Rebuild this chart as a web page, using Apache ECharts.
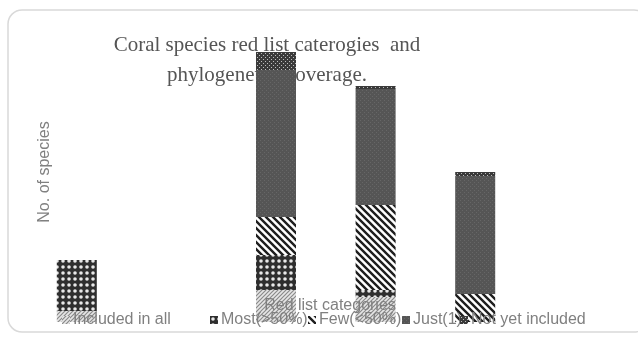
<!DOCTYPE html>
<html>
<head>
<meta charset="utf-8">
<script src="https://cdn.jsdelivr.net/npm/echarts@6/dist/echarts.min.js"></script>
<style>
  html, body { margin: 0; padding: 0; background: #fff; }
  #chart { width: 638px; height: 340px; }
</style>
</head>
<body>
<div id="chart"></div>
<script>
// Red list categories along the x axis (labels are not shown on the axis)
const categories = ['DD', 'CR', 'EN', 'VU', 'NT'];

// Number of species per phylogenetic coverage group, stacked bottom to top
const includedAll = [11, 0, 32, 25, 0];
const mostCovered = [51, 0, 35, 7, 0];
const fewCovered  = [0, 0, 38, 85, 28];
const justOne     = [0, 0, 147, 116, 118];
const notYet      = [0, 0, 18, 3, 4];

const seriesNames = ['Included in all', 'Most(>50%)', 'Few(<50%)', 'Just(1)', 'Not yet included'];

// Small repeating fills for the bar segments
function makePattern(size, draw) {
  const c = document.createElement('canvas');
  c.width = size; c.height = size;
  const g = c.getContext('2d');
  draw(g, size);
  return { image: c, repeat: 'repeat' };
}

const fineHatch = makePattern(4, (g, s) => {
  g.fillStyle = '#e6e6e6'; g.fillRect(0, 0, s, s);
  g.strokeStyle = '#8a8a8a'; g.lineWidth = 1.2;
  g.beginPath();
  g.moveTo(0, s); g.lineTo(s, 0);
  g.moveTo(-1, 1); g.lineTo(1, -1);
  g.moveTo(s - 1, s + 1); g.lineTo(s + 1, s - 1);
  g.stroke();
});

const dotGrid = makePattern(6, (g, s) => {
  g.fillStyle = '#2e2e2e'; g.fillRect(0, 0, s, s);
  g.fillStyle = '#e8e8e8';
  g.beginPath(); g.arc(3, 3, 1.8, 0, Math.PI * 2); g.fill();
});

const wideHatch = makePattern(7, (g, s) => {
  g.fillStyle = '#ffffff'; g.fillRect(0, 0, s, s);
  g.strokeStyle = '#1e1e1e'; g.lineWidth = 2.4;
  g.beginPath();
  g.moveTo(0, 0); g.lineTo(s, s);
  g.moveTo(-s, 0); g.lineTo(s, 2 * s);
  g.moveTo(0, -s); g.lineTo(2 * s, s);
  g.stroke();
});

const darkFill = makePattern(4, (g, s) => {
  g.fillStyle = '#555555'; g.fillRect(0, 0, s, s);
  g.fillStyle = '#666666';
  g.fillRect(0, 0, 1, 1); g.fillRect(2, 2, 1, 1);
});

const fineDots = makePattern(4, (g, s) => {
  g.fillStyle = '#3a3a3a'; g.fillRect(0, 0, s, s);
  g.fillStyle = '#bdbdbd';
  g.fillRect(1, 1, 1, 1); g.fillRect(3, 3, 1, 1);
});

const fills = [fineHatch, dotGrid, wideHatch, darkFill, fineDots];
const values = [includedAll, mostCovered, fewCovered, justOne, notYet];

const series = seriesNames.map((name, i) => ({
  name: name,
  type: 'bar',
  stack: 'total',
  barWidth: 40,
  z: 10,
  itemStyle: { color: fills[i] },
  emphasis: { disabled: true },
  data: values[i]
}));

const labelFont = { fontFamily: 'Liberation Sans', fontSize: 16, color: '#808080' };

// One legend block per entry so each sits where it belongs along the bottom row
const legendLeft = [57, 205, 303, 397, 455];
const legends = seriesNames.map((name, i) => ({
  data: [name],
  left: legendLeft[i],
  top: 307,
  itemWidth: 8,
  itemHeight: 8,
  itemGap: 3,
  icon: 'rect',
  textStyle: Object.assign({ padding: [0, 0, 0, -2] }, labelFont),
  z: 12
}));

const chart = echarts.init(document.getElementById('chart'), null, { renderer: 'canvas' });
chart.setOption({
  animation: false,
  backgroundColor: '#ffffff',
  graphic: [{
    type: 'rect',
    z: -10,
    shape: { x: 8, y: 10, width: 640, height: 322, r: 14 },
    style: { fill: 'none', stroke: '#d9d9d9', lineWidth: 1.5 }
  }, {
    // chart title, two centred lines drawn beneath the bars
    type: 'text',
    z: 0,
    x: 267,
    y: 30,
    style: {
      text: 'Coral species red list caterogies  and\nphylogenetic  coverage.',
      align: 'center',
      fontFamily: 'Liberation Serif',
      fontSize: 21,
      lineHeight: 30,
      fill: '#555555'
    }
  }],
  legend: legends,
  grid: { left: 27, right: 113, top: 22, bottom: 18 },
  xAxis: {
    type: 'category',
    data: categories,
    z: 20,
    name: 'Red list categories',
    nameLocation: 'middle',
    nameGap: -24,
    nameTextStyle: Object.assign({ padding: [0, 0, 0, 108] }, labelFont),
    axisLine: { show: false },
    axisTick: { show: false },
    axisLabel: { show: false }
  },
  yAxis: {
    type: 'value',
    min: 0,
    max: 300,
    name: 'No. of species',
    nameLocation: 'middle',
    nameGap: -26,
    nameRotate: 90,
    nameTextStyle: labelFont,
    axisLine: { show: false },
    axisTick: { show: false },
    axisLabel: { show: false },
    splitLine: { show: false }
  },
  series: series
});
</script>
</body>
</html>
